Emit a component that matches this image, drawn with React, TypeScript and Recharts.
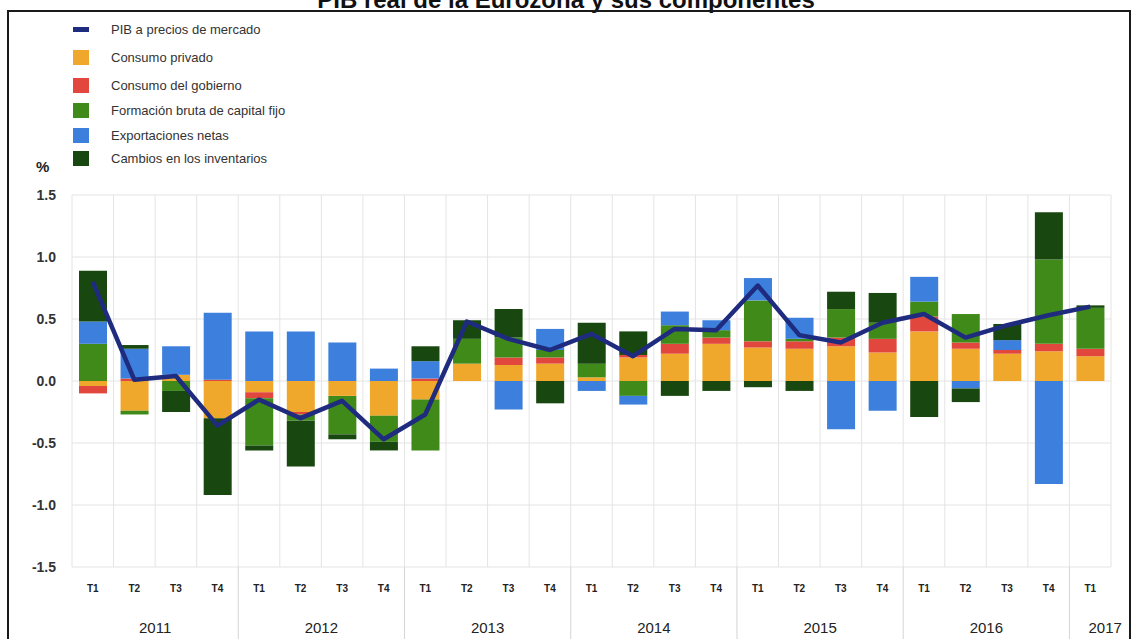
import React from "react";
import { ComposedChart, Bar, Line, XAxis, YAxis, CartesianGrid } from "recharts";

const quarters = [
  "T1", "T2", "T3", "T4", "T1", "T2", "T3", "T4", "T1", "T2", "T3", "T4",
  "T1", "T2", "T3", "T4", "T1", "T2", "T3", "T4", "T1", "T2", "T3", "T4", "T1",
];
const years = [
  2011, 2011, 2011, 2011, 2012, 2012, 2012, 2012, 2013, 2013, 2013, 2013,
  2014, 2014, 2014, 2014, 2015, 2015, 2015, 2015, 2016, 2016, 2016, 2016, 2017,
];

const pib = [
  0.8, 0.01, 0.04, -0.36, -0.15, -0.3, -0.16, -0.47, -0.27, 0.48, 0.34, 0.25,
  0.38, 0.2, 0.42, 0.41, 0.77, 0.37, 0.31, 0.47, 0.54, 0.35, 0.45, 0.53, 0.6,
];
const consumoPrivado = [
  -0.04, -0.24, 0.05, -0.3, -0.09, -0.25, -0.12, -0.28, -0.15, 0.14, 0.13, 0.14,
  0.03, 0.19, 0.22, 0.3, 0.27, 0.26, 0.28, 0.23, 0.4, 0.26, 0.22, 0.24, 0.2,
];
const consumoGobierno = [
  -0.06, 0.02, 0.0, 0.01, -0.05, -0.02, 0.0, 0.0, 0.02, 0.0, 0.06, 0.05,
  0.0, 0.02, 0.08, 0.05, 0.05, 0.06, 0.07, 0.11, 0.12, 0.05, 0.03, 0.06, 0.06,
];
const formacionCapital = [
  0.3, -0.03, -0.08, 0.0, -0.38, -0.05, -0.31, -0.21, -0.41, 0.2, 0.16, 0.06,
  0.11, -0.12, 0.15, 0.06, 0.33, 0.02, 0.23, 0.13, 0.12, 0.23, 0.0, 0.68, 0.33,
];
const exportacionesNetas = [
  0.18, 0.24, 0.23, 0.54, 0.4, 0.4, 0.31, 0.1, 0.14, 0.0, -0.23, 0.17,
  -0.08, -0.07, 0.11, 0.08, 0.18, 0.17, -0.39, -0.24, 0.2, -0.06, 0.08, -0.83, 0.0,
];
const inventarios = [
  0.41, 0.03, -0.17, -0.62, -0.04, -0.37, -0.04, -0.07, 0.12, 0.15, 0.23, -0.18,
  0.33, 0.19, -0.12, -0.08, -0.05, -0.08, 0.14, 0.24, -0.29, -0.11, 0.13, 0.38, 0.02,
];

const yTicks = [-1.5, -1, -0.5, 0, 0.5, 1, 1.5];

const C_PIB = "#1f2b7e";
const C_PRIV = "#f0a82c";
const C_GOB = "#e2473d";
const C_FBCF = "#3f8a18";
const C_EXP = "#3d7fdc";
const C_INV = "#18480f";

const legendItems = [
  { label: "PIB a precios de mercado", color: C_PIB, line: true },
  { label: "Consumo privado", color: C_PRIV },
  { label: "Consumo del gobierno", color: C_GOB },
  { label: "Formación bruta de capital fijo", color: C_FBCF },
  { label: "Exportaciones netas", color: C_EXP },
  { label: "Cambios en los inventarios", color: C_INV },
];

const data = quarters.map((q, i) => ({
  key: `${years[i]}-${q}`,
  pib: pib[i],
  priv: consumoPrivado[i],
  gob: consumoGobierno[i],
  fbcf: formacionCapital[i],
  exp: exportacionesNetas[i],
  inv: inventarios[i],
}));

const W = 1132;
const H = 639;
const M = { top: 195, right: 21, left: 12, bottom: 0 };
const BAND = (W - 72 - M.right) / data.length;
const FONT = "'Liberation Sans', Arial, sans-serif";

const QuarterTick = (props: any) => {
  const { x, y, payload } = props;
  const q = String(payload.value).split("-")[1];
  return (
    <text x={x} y={y + 21} textAnchor="middle" dominantBaseline="central"
      fontSize={10} fontWeight="bold" fill="#222" fontFamily={FONT}>
      {q}
    </text>
  );
};

const YearTick = (props: any) => {
  const { x, y, payload } = props;
  const [yr, q] = String(payload.value).split("-");
  const isLast = payload.value === data[data.length - 1].key;
  return (
    <g>
      {q === "T1" && payload.value !== data[0].key && (
        <line x1={x - BAND / 2} x2={x - BAND / 2} y1={y - 40} y2={H}
          stroke="#d4d4d4" strokeWidth={1} />
      )}
      {q === "T2" && (
        <text x={x + BAND / 2} y={y + 20} textAnchor="middle" dominantBaseline="central"
          fontSize={15} fill="#222" fontFamily={FONT}>
          {yr}
        </text>
      )}
      {isLast && (
        <text x={x + 15} y={y + 20} textAnchor="middle" dominantBaseline="central"
          fontSize={15} fill="#222" fontFamily={FONT}>
          {yr}
        </text>
      )}
    </g>
  );
};

const YTick = (props: any) => {
  const { y, payload } = props;
  return (
    <text x={56} y={y} textAnchor="end" dominantBaseline="central"
      fontSize={14} fontWeight="bold" fill="#333" fontFamily={FONT}>
      {Number(payload.value).toFixed(1)}
    </text>
  );
};

export default function App() {
  return (
    <div style={{ position: "absolute", left: 0, top: 0, width: W, height: H, overflow: "hidden", background: "#fff", fontFamily: FONT }}>
      <div style={{ position: "absolute", top: -12, left: 0, width: W, textAlign: "center", fontSize: 24, lineHeight: "24px", fontWeight: "bold", color: "#111" }}>
        PIB real de la Eurozona y sus componentes
      </div>
      <div style={{ position: "absolute", left: 7, top: 10, width: 1124, height: 700, border: "2px solid #1a1a1a", boxSizing: "border-box" }} />

      <ComposedChart width={W} height={H} data={data} margin={M} stackOffset="sign"
        style={{ position: "absolute", left: 0, top: 0 }}>
        <CartesianGrid stroke="#e4e4e4"
          verticalCoordinatesGenerator={({ offset }: any) =>
            Array.from({ length: data.length + 1 }, (_, i) => offset.left + (i * offset.width) / data.length)
          } />
        <XAxis dataKey="key" interval={0} height={40} tickLine={false} axisLine={false}
          tickSize={0} tickMargin={0} tick={<QuarterTick />} />
        <XAxis xAxisId="yr" dataKey="key" interval={0} height={32} tickLine={false} axisLine={false}
          tickSize={0} tickMargin={0} tick={<YearTick />} />
        <YAxis domain={[-1.5, 1.5]} ticks={yTicks} width={60} tickLine={false} axisLine={false}
          tick={<YTick />} />
        <Bar dataKey="priv" stackId="a" fill={C_PRIV} barSize={28} isAnimationActive={false} />
        <Bar dataKey="gob" stackId="a" fill={C_GOB} barSize={28} isAnimationActive={false} />
        <Bar dataKey="fbcf" stackId="a" fill={C_FBCF} barSize={28} isAnimationActive={false} />
        <Bar dataKey="exp" stackId="a" fill={C_EXP} barSize={28} isAnimationActive={false} />
        <Bar dataKey="inv" stackId="a" fill={C_INV} barSize={28} isAnimationActive={false} />
        <Line dataKey="pib" type="linear" stroke={C_PIB} strokeWidth={4.5} dot={false}
          strokeLinejoin="round" isAnimationActive={false} />
      </ComposedChart>

      <div style={{ position: "absolute", left: 73, top: 16 }}>
        {legendItems.map((it, i) => (
          <div key={it.label} style={{ position: "absolute", top: [0, 28, 56, 81, 106, 129][i], left: 0, display: "flex", alignItems: "center", height: 26, whiteSpace: "nowrap" }}>
            <div style={{ width: 16, height: it.line ? 5 : 15, background: it.color }} />
            <span style={{ marginLeft: 22, fontSize: 13, color: "#333" }}>{it.label}</span>
          </div>
        ))}
      </div>
      <div style={{ position: "absolute", left: 36, top: 158, fontSize: 15, fontWeight: "bold", color: "#222" }}>%</div>
    </div>
  );
}
